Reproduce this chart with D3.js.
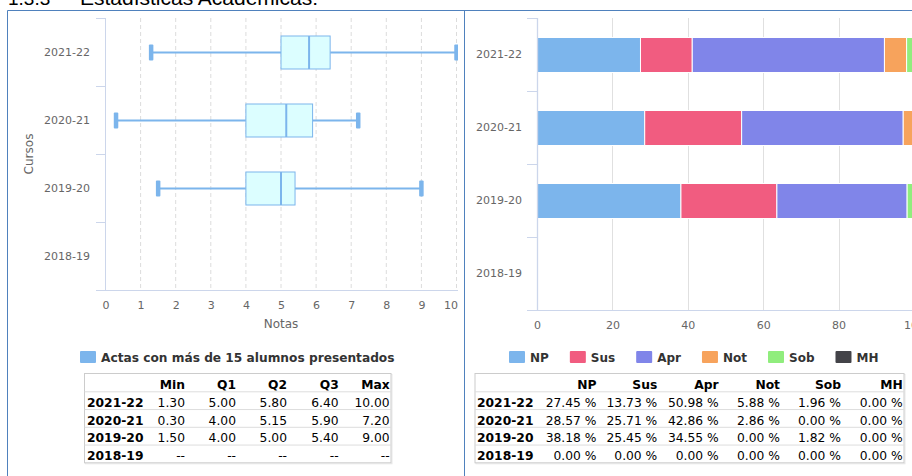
<!DOCTYPE html>
<html><head><meta charset="utf-8">
<script src="https://cdn.jsdelivr.net/npm/d3@7"></script>
<style>body{margin:0;background:#fff} svg{display:block}</style>
</head><body>
<svg id="c" width="912" height="476"></svg>
<script>
// ---------- DATA ----------
const cursos = ["2021-22", "2020-21", "2019-20", "2018-19"];
const notaMin = [1.30, 0.30, 1.50, null];
const notaQ1  = [5.00, 4.00, 4.00, null];
const notaQ2  = [5.80, 5.15, 5.00, null];
const notaQ3  = [6.40, 5.90, 5.40, null];
const notaMax = [10.00, 7.20, 9.00, null];
const boxCols = ["Min", "Q1", "Q2", "Q3", "Max"];
const notasTicks = [0, 1, 2, 3, 4, 5, 6, 7, 8, 9, 10];
const boxLegend = "Actas con más de 15 alumnos presentados";

const series = ["NP", "Sus", "Apr", "Not", "Sob", "MH"];
const seriesColors = ["#7cb5ec", "#f15c80", "#8085e9", "#f7a35c", "#90ed7d", "#434348"];
const pNP  = [27.45, 28.57, 38.18, 0];
const pSus = [13.73, 25.71, 25.45, 0];
const pApr = [50.98, 42.86, 34.55, 0];
const pNot = [5.88, 2.86, 0, 0];
const pSob = [1.96, 0, 1.82, 0];
const pMH  = [0, 0, 0, 0];
const pctTicks = [0, 20, 40, 60, 80, 100];

const titleNum = "1.3.3";
const titleText = "Estadísticas Académicas:";

// ---------- SETUP ----------
const svg = d3.select("#c");
const FONT = "'DejaVu Sans', sans-serif";
svg.append("rect").attr("width", 912).attr("height", 476).attr("fill", "#fff");

// Document header (cut off at top)
svg.append("text").attr("x", 8).attr("y", 4.5).attr("font-family", "'Liberation Sans', Arial, sans-serif")
  .attr("font-size", 19).attr("fill", "#000").text(titleNum);
svg.append("text").attr("x", 80).attr("y", 4.5).attr("font-family", "'Liberation Sans', Arial, sans-serif")
  .attr("font-size", 20).attr("fill", "#000")
  .attr("textLength", 238).attr("lengthAdjust", "spacingAndGlyphs").text(titleText);

// Panel borders
const borderC = "#4f81bd";
svg.append("line").attr("x1", 7.5).attr("x2", 912).attr("y1", 10.5).attr("y2", 10.5).attr("stroke", borderC);
svg.append("line").attr("x1", 7.5).attr("x2", 7.5).attr("y1", 10.5).attr("y2", 476).attr("stroke", borderC);
svg.append("line").attr("x1", 464.5).attr("x2", 464.5).attr("y1", 10.5).attr("y2", 476).attr("stroke", borderC);

const axisC = "#ccd6eb";

// ---------- LEFT: BOX PLOT ----------
const xN = d3.scaleLinear().domain([0, 10]).range([105.5, 456.5]);
const yN = d3.scaleBand().domain(cursos).range([18, 290]);
const gL = svg.append("g");

svg.append("clipPath").attr("id", "clipL").append("rect")
  .attr("x", 105).attr("y", 10).attr("width", 353).attr("height", 285);

// grid
gL.selectAll(".gridN").data(notasTicks.filter(t => t > 0)).join("line")
  .attr("x1", d => xN(d)).attr("x2", d => xN(d)).attr("y1", 18).attr("y2", 290)
  .attr("stroke", "#dcdcdc").attr("stroke-dasharray", "4,3");

// axis lines
gL.append("line").attr("x1", 105.5).attr("x2", 105.5).attr("y1", 18).attr("y2", 290).attr("stroke", axisC);
gL.append("line").attr("x1", 96).attr("x2", 458).attr("y1", 290.5).attr("y2", 290.5).attr("stroke", axisC);
const bandEdgesN = cursos.map(c => yN(c)).concat([yN.range()[1]]);
gL.selectAll(".tkN").data(bandEdgesN).join("line")
  .attr("x1", 96).attr("x2", 105.5).attr("y1", d => Math.round(d) + 0.5).attr("y2", d => Math.round(d) + 0.5)
  .attr("stroke", axisC);

// axis labels
const axBN = gL.append("g").attr("transform", "translate(0,290)")
  .call(d3.axisBottom(xN).tickValues(notasTicks).tickSize(0).tickPadding(11).tickFormat(d3.format("d")));
axBN.select(".domain").remove();
axBN.selectAll("text").attr("font-family", FONT).attr("font-size", 11).attr("fill", "#666");
axBN.selectAll(".tick").filter(d => d === 10).select("text").attr("text-anchor", "end").attr("x", 1);

const axLN = gL.append("g").attr("transform", "translate(105,0)")
  .call(d3.axisLeft(yN).tickSize(0).tickPadding(15));
axLN.select(".domain").remove();
axLN.selectAll("text").attr("font-family", FONT).attr("font-size", 11).attr("fill", "#666");

gL.append("text").attr("x", xN(5)).attr("y", 328).attr("text-anchor", "middle")
  .attr("font-family", FONT).attr("font-size", 12).attr("fill", "#666").text("Notas");
gL.append("text").attr("transform", "translate(33,154) rotate(-90)").attr("text-anchor", "middle")
  .attr("font-family", FONT).attr("font-size", 12).attr("fill", "#666").text("Cursos");

// boxes
const boxData = cursos.map((c, i) => ({c, min: notaMin[i], q1: notaQ1[i], q2: notaQ2[i], q3: notaQ3[i], max: notaMax[i]}))
  .filter(d => d.min !== null);
const boxColor = "#7cb5ec";
const boxH = 33, capH = 16;
const gB = gL.append("g").attr("clip-path", "url(#clipL)");
boxData.forEach(d => {
  const cy = yN(d.c) + yN.bandwidth() / 2 + 0.5;
  gB.append("line").attr("x1", xN(d.min)).attr("x2", xN(d.q1)).attr("y1", cy).attr("y2", cy)
    .attr("stroke", boxColor).attr("stroke-width", 2);
  gB.append("line").attr("x1", xN(d.q3)).attr("x2", xN(d.max)).attr("y1", cy).attr("y2", cy)
    .attr("stroke", boxColor).attr("stroke-width", 2);
  gB.append("rect").attr("x", xN(d.q1)).attr("y", cy - boxH / 2).attr("width", xN(d.q3) - xN(d.q1)).attr("height", boxH)
    .attr("fill", "#dcfeff").attr("stroke", boxColor).attr("stroke-width", 1);
  gB.append("line").attr("x1", xN(d.q2)).attr("x2", xN(d.q2)).attr("y1", cy - boxH / 2).attr("y2", cy + boxH / 2)
    .attr("stroke", boxColor).attr("stroke-width", 2);
  [d.min, d.max].forEach(v => {
    gB.append("rect").attr("x", xN(v) - 2.25).attr("y", cy - capH / 2).attr("width", 4.5).attr("height", capH)
      .attr("rx", 1).attr("fill", boxColor);
  });
});

// legend left
const gLegL = svg.append("g");
gLegL.append("rect").attr("x", 80).attr("y", 351).attr("width", 16).attr("height", 12).attr("rx", 1).attr("fill", boxColor);
gLegL.append("text").attr("x", 101).attr("y", 361.5).attr("font-family", FONT).attr("font-size", 12.2)
  .attr("font-weight", "bold").attr("fill", "#333").text(boxLegend);

// ---------- TABLE helper ----------
function drawTable(x0, x1, labelX, colRights, headers, rows) {
  const g = svg.append("g");
  const top = 373.5, headH = 18.3, rowH = 17.75;
  const ys = [top, top + headH];
  rows.forEach((r, i) => ys.push(top + headH + rowH * (i + 1)));
  const bottom = ys[ys.length - 1];
  g.append("rect").attr("x", x0 + 1).attr("y", top + 1).attr("width", x1 - x0).attr("height", bottom - top)
    .attr("fill", "none").attr("stroke", "#e8e8e8");
  g.append("rect").attr("x", x0).attr("y", top).attr("width", x1 - x0).attr("height", bottom - top)
    .attr("fill", "#fff").attr("stroke", "#cccccc");
  ys.slice(1, -1).forEach(y => g.append("line").attr("x1", x0).attr("x2", x1).attr("y1", y).attr("y2", y)
    .attr("stroke", "#dddddd"));
  headers.forEach((h, j) => g.append("text").attr("x", colRights[j]).attr("y", ys[1] - 2.6)
    .attr("text-anchor", "end").attr("font-family", FONT).attr("font-size", 12.3).attr("font-weight", "bold")
    .attr("fill", "#000").text(h));
  rows.forEach((r, i) => {
    const base = ys[i + 2] - 2.6;
    g.append("text").attr("x", labelX).attr("y", base).attr("font-family", FONT).attr("font-size", 12.3)
      .attr("font-weight", "bold").attr("fill", "#000").text(r[0]);
    r.slice(1).forEach((v, j) => g.append("text").attr("x", colRights[j]).attr("y", base)
      .attr("text-anchor", "end").attr("font-family", FONT).attr("font-size", 12.3).attr("fill", "#000").text(v));
  });
}

const fmt2 = v => v === null ? "--" : v.toFixed(2);
drawTable(84.5, 391, 87, [185, 236, 287, 338.7, 389.7], boxCols,
  cursos.map((c, i) => [c, fmt2(notaMin[i]), fmt2(notaQ1[i]), fmt2(notaQ2[i]), fmt2(notaQ3[i]), fmt2(notaMax[i])]));

// ---------- RIGHT: STACKED BARS ----------
const seriesVals = [pNP, pSus, pApr, pNot, pSob, pMH];
const rowsP = cursos.map((c, i) => {
  const o = {curso: c};
  series.forEach((s, k) => o[s] = seriesVals[k][i]);
  return o;
});
const xP = d3.scaleLinear().domain([0, 100]).range([537, 914]);
const yP = d3.scaleBand().domain(cursos).range([18, 310]);
const color = d3.scaleOrdinal().domain(series).range(seriesColors);
const gR = svg.append("g");

gR.selectAll(".gridP").data(pctTicks.filter(t => t > 0)).join("line")
  .attr("x1", d => Math.round(xP(d)) + 0.5).attr("x2", d => Math.round(xP(d)) + 0.5).attr("y1", 18).attr("y2", 310)
  .attr("stroke", "#e0e0e0");

const stacked = d3.stack().keys(series)(rowsP);
const barH = 35;
stacked.forEach(layer => {
  gR.selectAll(null).data(layer.filter(d => d[1] - d[0] > 0)).join("rect")
    .attr("x", d => xP(d[0])).attr("width", d => xP(d[1]) - xP(d[0]))
    .attr("y", d => yP(d.data.curso) + yP.bandwidth() / 2 + 0.5 - barH / 2).attr("height", barH)
    .attr("fill", color(layer.key)).attr("stroke", "#fff").attr("stroke-width", 1);
});

gR.append("line").attr("x1", 537.5).attr("x2", 537.5).attr("y1", 18).attr("y2", 310).attr("stroke", axisC).attr("stroke-width", 1.3);
gR.append("line").attr("x1", 527).attr("x2", 912).attr("y1", 310.5).attr("y2", 310.5).attr("stroke", axisC);
const bandEdgesP = cursos.map(c => yP(c)).concat([yP.range()[1]]);
gR.selectAll(".tkP").data(bandEdgesP).join("line")
  .attr("x1", 527).attr("x2", 537.5).attr("y1", d => Math.round(d) + 0.5).attr("y2", d => Math.round(d) + 0.5)
  .attr("stroke", axisC);

const axBP = gR.append("g").attr("transform", "translate(0,310)")
  .call(d3.axisBottom(xP).tickValues(pctTicks).tickSize(0).tickPadding(11).tickFormat(d3.format("d")));
axBP.select(".domain").remove();
axBP.selectAll("text").attr("font-family", FONT).attr("font-size", 11).attr("fill", "#666");

const axLP = gR.append("g").attr("transform", "translate(537,0)")
  .call(d3.axisLeft(yP).tickSize(0).tickPadding(15));
axLP.select(".domain").remove();
axLP.selectAll("text").attr("font-family", FONT).attr("font-size", 11).attr("fill", "#666");

// legend right
let lx = 509;
series.forEach((s, k) => {
  const g = svg.append("g");
  g.append("rect").attr("x", lx).attr("y", 351).attr("width", 16).attr("height", 12).attr("rx", 1).attr("fill", seriesColors[k]);
  const t = g.append("text").attr("x", lx + 21).attr("y", 361.5).attr("font-family", FONT).attr("font-size", 12)
    .attr("font-weight", "bold").attr("fill", "#333").text(s);
  lx += 21 + t.node().getComputedTextLength() + 21;
});

const fmtP = v => v.toFixed(2) + " %";
drawTable(475, 904, 477, [596.5, 657.3, 718.7, 780, 841, 902.7], series,
  cursos.map((c, i) => [c].concat(seriesVals.map(a => fmtP(a[i])))));
</script>
</body></html>
